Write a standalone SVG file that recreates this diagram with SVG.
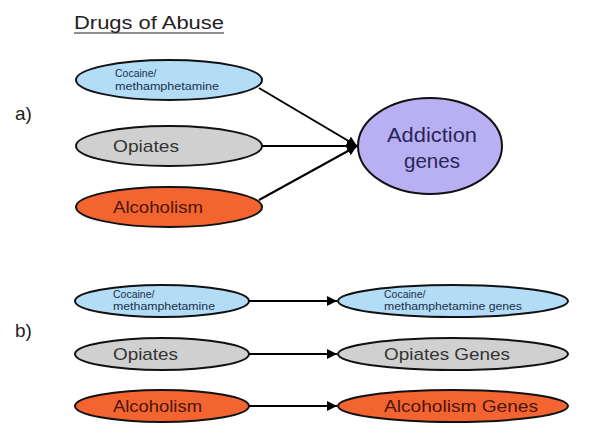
<svg xmlns="http://www.w3.org/2000/svg" width="610" height="443" viewBox="0 0 610 443">
<defs>
<marker id="ah" viewBox="0 0 10 10" refX="10" refY="5" markerWidth="10" markerHeight="10" markerUnits="userSpaceOnUse" orient="auto">
<path d="M0,0 L10,5 L0,10 Z" fill="#000"/>
</marker>
<style>
text{font-family:"Liberation Sans",Arial,sans-serif;}
.e{stroke:#111;stroke-width:2;}
.blue{fill:#b3dcf7;}
.gray{fill:#d0d0d0;}
.orange{fill:#f46430;}
.purple{fill:#b8b0f2;}
.sm{font-size:10.5px;fill:#1c3048;}
.md{font-size:17px;fill:#333;}
.or{font-size:17px;fill:#4a1608;}
.lg{font-size:21px;fill:#2a2658;text-anchor:middle;}
.conn line{stroke:#000;stroke-width:2;marker-end:url(#ah);}
</style>
</defs>
<rect width="610" height="443" fill="#fff"/>
<text x="74" y="29" font-size="18" fill="#222" textLength="150" lengthAdjust="spacingAndGlyphs">Drugs of Abuse</text>
<line x1="74" y1="33" x2="224" y2="33" stroke="#222" stroke-width="1.2"/>
<text x="15" y="120" font-size="19" fill="#222">a)</text>
<text x="15" y="337" font-size="19" fill="#222">b)</text>

<g id="a-cocaine"><ellipse class="e blue" cx="169" cy="80" rx="93" ry="20"/><text class="sm" x="115" y="77">Cocaine/</text><text class="sm" x="115" y="90" textLength="104" lengthAdjust="spacingAndGlyphs">methamphetamine</text></g>
<g id="a-opiates"><ellipse class="e gray" cx="169" cy="146" rx="93" ry="20"/><text class="md" x="113" y="152" textLength="66" lengthAdjust="spacingAndGlyphs">Opiates</text></g>
<g id="a-alcohol"><ellipse class="e orange" cx="169" cy="207" rx="93" ry="20"/><text class="or" x="113" y="213" textLength="90" lengthAdjust="spacingAndGlyphs">Alcoholism</text></g>
<g id="a-addiction"><ellipse class="e purple" cx="430" cy="146" rx="72" ry="48"/><text class="lg" x="432" y="142" textLength="90" lengthAdjust="spacingAndGlyphs">Addiction</text><text class="lg" x="432" y="168" textLength="56" lengthAdjust="spacingAndGlyphs">genes</text></g>

<g id="b-cocaine"><ellipse class="e blue" cx="162" cy="301" rx="87" ry="16"/><text class="sm" x="113" y="298">Cocaine/</text><text class="sm" x="113" y="310" textLength="102" lengthAdjust="spacingAndGlyphs">methamphetamine</text></g>
<g id="b-opiates"><ellipse class="e gray" cx="162" cy="354" rx="87" ry="16"/><text class="md" x="113" y="360" textLength="65" lengthAdjust="spacingAndGlyphs">Opiates</text></g>
<g id="b-alcohol"><ellipse class="e orange" cx="162" cy="406" rx="87" ry="16"/><text class="or" x="113" y="412" textLength="89" lengthAdjust="spacingAndGlyphs">Alcoholism</text></g>
<g id="b-cocaine-genes"><ellipse class="e blue" cx="453" cy="301" rx="115" ry="16"/><text class="sm" x="384" y="298">Cocaine/</text><text class="sm" x="384" y="310" textLength="138" lengthAdjust="spacingAndGlyphs">methamphetamine genes</text></g>
<g id="b-opiates-genes"><ellipse class="e gray" cx="453" cy="354" rx="115" ry="16"/><text class="md" x="384" y="360" textLength="126" lengthAdjust="spacingAndGlyphs">Opiates Genes</text></g>
<g id="b-alcohol-genes"><ellipse class="e orange" cx="453" cy="406" rx="115" ry="16"/><text class="or" x="384" y="412" textLength="154" lengthAdjust="spacingAndGlyphs">Alcoholism Genes</text></g>

<g class="conn" id="connectors">
<line x1="259" y1="88" x2="357" y2="146"/>
<line x1="262" y1="146" x2="357" y2="146"/>
<line x1="259" y1="200" x2="357" y2="146"/>
<line x1="249" y1="301" x2="337" y2="301"/>
<line x1="249" y1="354" x2="337" y2="354"/>
<line x1="249" y1="406" x2="337" y2="406"/>
</g>
</svg>
